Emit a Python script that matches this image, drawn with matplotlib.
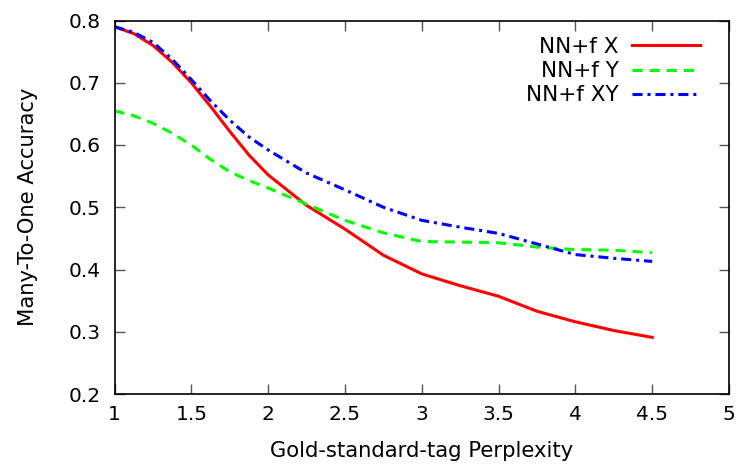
import matplotlib
matplotlib.use("Agg")
import matplotlib.pyplot as plt

x = [1.0, 1.125, 1.25, 1.375, 1.5, 1.625, 1.75, 1.875, 2.0, 2.25, 2.5, 2.75, 3.0, 3.25, 3.5, 3.75, 4.0, 4.25, 4.5]
nn_x = [0.790, 0.779, 0.760, 0.733, 0.700, 0.662, 0.622, 0.584, 0.552, 0.503, 0.465, 0.423, 0.393, 0.374, 0.357, 0.333, 0.316, 0.302, 0.291]
nn_y = [0.655, 0.647, 0.635, 0.619, 0.600, 0.577, 0.557, 0.543, 0.531, 0.505, 0.479, 0.459, 0.445, 0.444, 0.443, 0.436, 0.432, 0.431, 0.427]
nn_xy = [0.790, 0.781, 0.765, 0.738, 0.705, 0.671, 0.640, 0.613, 0.592, 0.555, 0.528, 0.500, 0.479, 0.468, 0.458, 0.441, 0.424, 0.418, 0.413]

xticks = [1, 1.5, 2, 2.5, 3, 3.5, 4, 4.5, 5]
xtick_labels = ["1", "1.5", "2", "2.5", "3", "3.5", "4", "4.5", "5"]
yticks = [0.2, 0.3, 0.4, 0.5, 0.6, 0.7, 0.8]
ytick_labels = ["0.2", "0.3", "0.4", "0.5", "0.6", "0.7", "0.8"]

fig = plt.figure(figsize=(7.39, 4.67), dpi=100)
ax = fig.add_axes([114.5/739, 1 - 394/467, (729-114.5)/739, (394-20.5)/467])

ax.plot(x, nn_x, color="#ff0000", lw=2.2, label="NN+f X")
ax.plot(x, nn_y, color="#00ff00", lw=2.2, dashes=(3.3, 2.3), label="NN+f Y")
ax.plot(x, nn_xy, color="#0000ff", lw=2.2, dashes=(3.3, 1.6, 1.0, 1.6), label="NN+f XY")

ax.set_xlim(1, 5)
ax.set_ylim(0.2, 0.8)
ax.set_xticks(xticks)
ax.set_xticklabels(xtick_labels)
ax.set_yticks(yticks)
ax.set_yticklabels(ytick_labels)
ax.tick_params(direction="in", length=7, width=1, color="#555555", labelsize=14.5,
               top=True, right=True)
ax.tick_params(axis="x", pad=8)
ax.tick_params(axis="y", pad=10)
for s in ax.spines.values():
    s.set_linewidth(1.2)

ax.set_xlabel("Gold-standard-tag Perplexity", fontsize=15.2, labelpad=12)
ax.set_ylabel("Many-To-One Accuracy", fontsize=15.2, labelpad=22)

leg = ax.legend(loc="upper right", frameon=False, markerfirst=False, fontsize=15.5,
                handlelength=3.2, handletextpad=0.6, labelspacing=0.2,
                bbox_to_anchor=(0.985, 1.008))

fig.savefig("out.png", dpi=100)
